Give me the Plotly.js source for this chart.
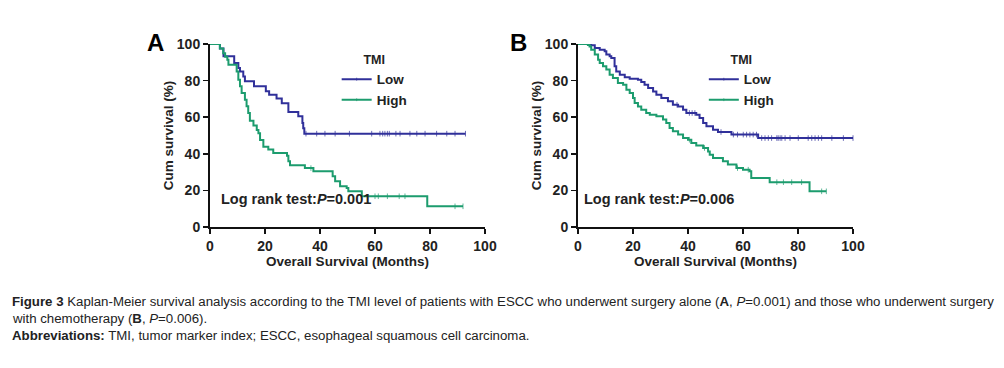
<!DOCTYPE html>
<html><head><meta charset="utf-8">
<script src="https://cdn.plot.ly/plotly-3.0.1.min.js"></script>
<style>body{margin:0;background:#fff}#chart{width:1004px;height:368px}</style>
</head><body><div id="chart"></div>
<script>
// Panel A: surgery alone
const aLowT  = [0,3.6,4.9,8.8,10.3,10.9,12.1,12.7,16.0,20.3,21.5,24.2,26.1,28.5,32.1,33.6,33.9,34.3];
const aLowS  = [100,97.5,93.3,89.6,86.9,85.0,82.3,79.6,76.9,74.2,72.3,70.2,67.6,62.8,60.5,56.8,54.0,51.0];
const aLowC  = [34.9,38.8,41.8,45.5,50.7,58.8,61.8,62.8,63.6,64.5,65.2,67.6,69.1,72.7,75.2,78.2,82.4,86.1,89.1,92.9];
const aHighT = [0,3.6,4.8,5.5,6.3,6.7,9.7,10.3,10.9,11.5,12.7,13.3,13.9,14.5,15.8,17.0,17.6,18.2,19.4,21.2,23.0,28.0,28.5,29.1,34.5,37.6,44.6,45.5,47.3,49.7,50.3,55.2,79.0];
const aHighS = [100,97.5,95,93,91.4,88.7,85,80.5,76.9,73.2,69.6,66,62.3,58,55.5,53,51.2,47.5,43.9,42.3,40.4,39,35.9,33.7,32.2,30.4,27.7,25,22.2,21.3,19.5,16.8,11.3];
const aHighC = [36.7,60.0,61.2,64.5,68.8,70.9,89.1,92.0];
// Panel B: surgery with chemotherapy
const bLowT  = [0,4.8,6.1,7.9,9.7,10.3,11.5,12.1,13.3,13.9,15.2,17.0,18.8,21.8,23.0,24.2,25.5,27.3,28.5,30.3,32.7,34.5,36.4,38.2,39.4,43.0,44.2,45.5,46.7,49.1,50.9,55.8,65.5];
const bLowS  = [100,99.3,97.8,96.9,96.0,94.2,93.3,92.3,87.8,85.0,83.2,81.8,81.0,80.5,79.2,77.8,76.0,74.1,72.3,70.5,68.7,66.8,65.9,64.1,62.3,61.4,59.6,56.8,55.0,53.2,51.9,50.5,48.6];
const bLowC  = [36.0,40.5,41.5,42.5,52.0,56.5,58.0,60.1,61.3,62.5,63.7,64.9,66.8,68.0,69.2,70.4,72.3,72.8,73.5,74.1,75.3,77.1,80.1,83.7,85.0,86.2,87.4,88.6,92.3,96.5,100];
const bHighT = [0,3.6,4.2,4.8,6.1,7.3,7.9,9.1,10.3,11.5,12.7,14.5,16.4,17.6,18.8,20.0,20.6,21.8,23.0,24.8,26.1,28.5,30.9,32.1,33.3,34.5,36.4,38.2,40.0,41.2,43.0,45.5,47.3,47.9,49.1,52.7,54.5,57.6,60.0,62.4,63.0,69.7,84.2];
const bHighS = [100,99.5,98.7,96.9,94.2,91.4,89.6,87.8,86.0,83.2,81.4,78.7,77.8,75.0,73.2,70.5,67.8,65.9,64.1,62.3,61.4,60.5,58.7,56.8,54.1,52.3,50.5,48.6,47.7,45.9,44.6,43.2,41.3,39.5,37.7,35.9,34.1,32.2,31.3,30.4,26.8,24.5,19.5];
const bHighC = [40.5,46.0,58.0,61.9,72.3,74.7,77.7,81.3,88.6,90.3];

const groupNames = ['Low','High'];
const tickVals = [0,20,40,60,80,100];
const pValues = ['0.001','0.006'];
const panelLetters = ['A','B'];

const BLUE = '#30309a', GREEN = '#1c9c6e';

function stepAt(T, S, t){ let v = S[0]; for (let i=0;i<T.length;i++){ if (T[i] <= t) v = S[i]; } return v; }
function km(T, S, C, name, color, xa, ya, legend, showleg){
  const pts = [];
  T.forEach((t,i)=>pts.push({x:t, y:S[i], c:false}));
  C.forEach(t=>pts.push({x:t, y:stepAt(T,S,t), c:true}));
  pts.sort((a,b)=>a.x-b.x || (a.c?1:-1));
  return {
    x: pts.map(p=>p.x), y: pts.map(p=>p.y), name: name, xaxis: xa, yaxis: ya,
    type:'scatter', mode:'lines+markers', line:{shape:'hv', color:color, width:2},
    marker:{symbol:'line-ns', size: pts.map(p=>p.c?4:0), line:{color:color, width:1}},
    cliponaxis:false, showlegend: showleg, legend: legend, hoverinfo:'skip'
  };
}

const data = [
  km(aLowT,aLowS,aLowC,groupNames[0],BLUE,'x','y','legend',true),
  km(aHighT,aHighS,aHighC,groupNames[1],GREEN,'x','y','legend',true),
  km(bLowT,bLowS,bLowC,groupNames[0],BLUE,'x2','y2','legend2',true),
  km(bHighT,bHighS,bHighC,groupNames[1],GREEN,'x2','y2','legend2',true)
];

const F = 'Liberation Sans, Arial, sans-serif';
function xax(dom, anchor){ return {domain:dom, anchor:anchor, range:[0,100], tickvals:tickVals, ticks:'outside', ticklen:5, tickwidth:1.5, tickcolor:'#111',
  showline:true, linecolor:'#111', linewidth:2, showgrid:false, zeroline:false, tickfont:{family:F, size:14, color:'#222', weight:'bold'},
  title:{text:'<b>Overall Survival (Months)</b>', font:{family:F, size:13.5, color:'#222'}, standoff:3}}; }
function yax(anchor){ return {domain:[0,1], anchor:anchor, range:[0,100], tickvals:tickVals, ticks:'outside', ticklen:5, tickwidth:1.5, tickcolor:'#111',
  showline:true, linecolor:'#111', linewidth:2, showgrid:false, zeroline:false, tickfont:{family:F, size:14, color:'#222', weight:'bold'},
  title:{text:'<b>Cum survival (%)</b>', font:{family:F, size:13.5, color:'#222'}, standoff:0}}; }

function leg(x){ return {x:x, y:0.98, xanchor:'left', yanchor:'top', bgcolor:'rgba(0,0,0,0)', font:{family:F, size:13.5, color:'#222', weight:'bold'},
  title:{text:'<b>TMI</b>', side:'top center', font:{family:F, size:12.5, color:'#222'}}, itemwidth:30, tracegroupgap:0}; }

const capFont = {family:'Liberation Sans Narrow, Arial Narrow, sans-serif', size:13.25, color:'#222'};
const layout = {
  width:1004, height:368, margin:{l:210, r:151, t:44, b:141}, paper_bgcolor:'#fff', plot_bgcolor:'#fff',
  xaxis: xax([0, 275/643], 'y'), yaxis: yax('x'),
  xaxis2: xax([368/643, 1], 'y2'), yaxis2: yax('x2'),
  legend: leg(0.197), legend2: leg(0.768),
  showlegend:true,
  annotations: [
    {xref:'paper', yref:'paper', x:-0.084, y:1.01, text:'<b>'+panelLetters[0]+'</b>', showarrow:false, font:{family:F, size:24, color:'#000'}, xanchor:'center', yanchor:'middle'},
    {xref:'paper', yref:'paper', x:0.4805, y:1.01, text:'<b>'+panelLetters[1]+'</b>', showarrow:false, font:{family:F, size:24, color:'#000'}, xanchor:'center', yanchor:'middle'},
    {xref:'paper', yref:'paper', x:0.134, y:0.153, text:'<b>Log rank test:<i>P</i>=' + pValues[0] + '</b>', showarrow:false, font:{family:F, size:14.5, color:'#222'}, xanchor:'center', yanchor:'middle'},
    {xref:'paper', yref:'paper', x:0.698, y:0.153, text:'<b>Log rank test:<i>P</i>=' + pValues[1] + '</b>', showarrow:false, font:{family:F, size:14.5, color:'#222'}, xanchor:'center', yanchor:'middle'},
    {xref:'paper', yref:'paper', x:-0.3110, y:-0.405, xanchor:'left', yanchor:'middle', showarrow:false, font:capFont,
     text:'<b>Figure 3</b> Kaplan-Meier survival analysis according to the TMI level of patients with ESCC who underwent surgery alone (<b>A</b>, <i>P</i>=0.001) and those who underwent surgery'},
    {xref:'paper', yref:'paper', x:-0.3110, y:-0.498, xanchor:'left', yanchor:'middle', showarrow:false, font:capFont,
     text:'with chemotherapy (<b>B</b>, <i>P</i>=0.006).'},
    {xref:'paper', yref:'paper', x:-0.3110, y:-0.591, xanchor:'left', yanchor:'middle', showarrow:false, font:capFont,
     text:'<b>Abbreviations:</b> TMI, tumor marker index; ESCC, esophageal squamous cell carcinoma.'}
  ]
};
Plotly.newPlot('chart', data, layout, {displayModeBar:false, staticPlot:true});
</script></body></html>
